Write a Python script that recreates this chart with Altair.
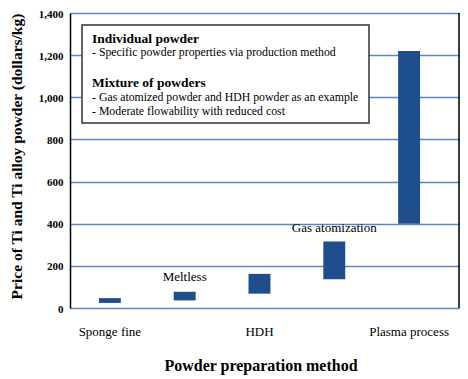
import altair as alt
import pandas as pd

categories = ["Sponge fine", "Meltless", "HDH", "Gas atomization", "Plasma process"]
price_low = [24, 36, 68, 136, 400]
price_high = [47, 77, 162, 316, 1220]

axis_labels = ["Sponge fine", "HDH", "Plasma process"]
bar_labels = ["Meltless", "Gas atomization"]
bar_label_values = [146, 382]

box_title_1 = "Individual powder"
box_lines_1 = ["- Specific powder properties via production method"]
box_title_2 = "Mixture of powders"
box_lines_2 = ["- Gas atomized powder and HDH powder as an example",
               "- Moderate flowability with reduced cost"]

W, H = 389, 295
SERIF = "'Liberation Serif', 'Times New Roman', 'DejaVu Serif', serif"
BAR = "#1F4E8C"
GRID = "#5A87C2"

df = pd.DataFrame({"method": categories, "low": price_low, "high": price_high})
lab_df = pd.DataFrame({"method": bar_labels, "value": bar_label_values})

label_expr = "indexof(" + str(axis_labels).replace("'", '"') + ", datum.value) >= 0 ? datum.value : ''"

xscale = alt.Scale(domain=categories, paddingInner=0.707, paddingOuter=0.4535, align=0.426)
yscale = alt.Scale(domain=[0, 1400])

x_enc = alt.X("method:N", scale=xscale, sort=categories,
              axis=alt.Axis(title="Powder preparation method", labelExpr=label_expr,
                            labelAngle=0, ticks=False, domain=False, labelPadding=17,
                            labelFont=SERIF, labelFontSize=13, labelColor="black",
                            titleFont=SERIF, titleFontSize=16, titleFontWeight="bold",
                            titleColor="black", titlePadding=19, titleX=190.5))

bars = alt.Chart(df).mark_bar(color=BAR).encode(
    x=x_enc,
    y=alt.Y("low:Q", scale=yscale,
            axis=alt.Axis(title="Price of Ti and Ti alloy powder (dollars/kg)",
                          values=[0, 200, 400, 600, 800, 1000, 1200, 1400], format=",.0f",
                          ticks=False, domainColor="black", domainWidth=1.5,
                          gridColor=GRID, gridWidth=1.5, gridOpacity=1,
                          labelFont=SERIF, labelFontSize=11, labelFontWeight="bold",
                          labelColor="black", labelPadding=7, labelOffset=1,
                          titleFont=SERIF, titleFontSize=15.5, titleFontWeight="bold",
                          titleColor="black", titlePadding=14, titleY=143)),
    y2="high:Q",
)

labels = alt.Chart(lab_df).mark_text(font=SERIF, fontSize=13, color="black",
                                     baseline="middle").encode(
    x=alt.X("method:N", scale=xscale, sort=categories),
    y=alt.Y("value:Q", scale=yscale),
    text="method:N",
)

right_edge = alt.Chart(pd.DataFrame({"a": [0]})).mark_rule(color="black", strokeWidth=1.5).encode(
    x=alt.value(W), y=alt.value(0), y2=alt.value(H))

box = alt.Chart(pd.DataFrame({"a": [0]})).mark_rect(
    fill="white", stroke="#333333", strokeWidth=1.5).encode(
    x=alt.value(12), x2=alt.value(299), y=alt.value(12), y2=alt.value(110))

text_rows = pd.DataFrame({
    "t": [box_title_1] + box_lines_1 + [box_title_2] + box_lines_2,
    "bold": [True, False, True, False, False],
    "row": [0, 1, 2, 3, 4],
})
ypos = [25.5, 38.5, 69.5, 84, 97.5]

def box_text(i, bold):
    return alt.Chart(text_rows[text_rows.row == i]).mark_text(
        font=SERIF, fontSize=13.5 if bold else 11.8, fontWeight="bold" if bold else "normal",
        align="left", baseline="middle", color="black").encode(
        x=alt.value(22), y=alt.value(ypos[i]), text="t:N")

texts = [box_text(i, b) for i, b in zip(text_rows.row, text_rows.bold)]

chart = alt.layer(bars, labels, right_edge, box, *texts).properties(
    width=W, height=H,
    autosize=alt.AutoSizeParams(type="none"),
    padding={"left": 62, "top": 5, "right": 1, "bottom": 72},
).configure_view(stroke=None).configure(background="white")

chart.save("out.html", embed_options={"renderer": "svg", "actions": False})
